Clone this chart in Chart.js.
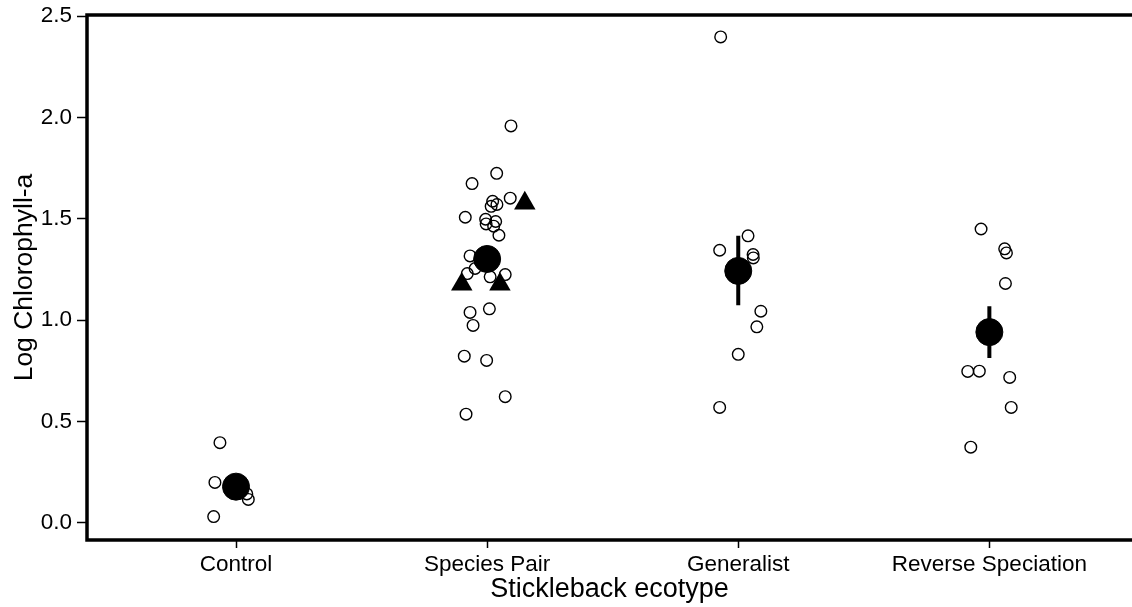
<!DOCTYPE html>
<html>
<head>
<meta charset="utf-8">
<script src="https://cdn.jsdelivr.net/npm/chart.js@4"></script>
<style>
html, body { margin: 0; padding: 0; background: #fff; overflow: hidden; }
</style>
</head>
<body>
<canvas id="chart" width="1132" height="607"></canvas>
<script>
const categories = ['Control', 'Species Pair', 'Generalist', 'Reverse Speciation'];
const yTicks = [0, 0.5, 1.0, 1.5, 2.0, 2.5];

// individual mesocosms (x = category position with jitter)
const controlJitter = [0.936, 0.916, 0.911, 1.049, 1.043];
const controlValues = [0.395, 0.199, 0.030, 0.115, 0.142];

const pairJitter = [2.095, 2.038, 1.940, 2.092, 2.022, 2.039, 2.016, 1.913, 1.994, 2.034, 2.026, 1.996,
  2.047, 1.932, 1.952, 1.921, 2.012, 2.072, 1.932, 2.009, 1.944, 1.909, 1.998, 2.072, 1.916];
const pairValues = [1.959, 1.725, 1.674, 1.602, 1.587, 1.571, 1.562, 1.508, 1.498, 1.487, 1.464, 1.475,
  1.419, 1.317, 1.255, 1.230, 1.214, 1.225, 1.038, 1.056, 0.974, 0.822, 0.801, 0.622, 0.536];

const generalistJitter = [2.930, 3.039, 2.926, 3.059, 3.060, 3.090, 3.074, 3.000, 2.926];
const generalistValues = [2.398, 1.416, 1.345, 1.324, 1.307, 1.044, 0.967, 0.831, 0.569];

const reverseJitter = [3.967, 4.061, 4.068, 4.064, 3.914, 3.960, 4.081, 4.087, 3.926];
const reverseValues = [1.450, 1.352, 1.332, 1.181, 0.747, 0.748, 0.717, 0.569, 0.373];

// triangles in the species pair group
const triangleJitter = [1.899, 2.051, 2.150];
const triangleValues = [1.177, 1.177, 1.577];

// group means and error bars
const meanValues = [0.178, 1.302, 1.243, 0.941];
const seLower = [0.13, 1.26, 1.074, 0.813];
const seUpper = [0.23, 1.34, 1.416, 1.069];

const family = '"Liberation Sans", Arial, Helvetica, sans-serif';

function pts(xs, ys) {
  return xs.map((x, i) => ({ x: x, y: ys[i] }));
}

const openPoints = [].concat(
  pts(controlJitter, controlValues),
  pts(pairJitter, pairValues),
  pts(generalistJitter, generalistValues),
  pts(reverseJitter, reverseValues)
);

const errorLines = [];
categories.forEach((c, i) => {
  errorLines.push({ x: i + 1, y: seLower[i] });
  errorLines.push({ x: i + 1, y: seUpper[i] });
  errorLines.push({ x: i + 1, y: null });
});

const frame = {
  id: 'frame',
  afterDraw(chart) {
    const { ctx, chartArea: a } = chart;
    ctx.save();
    ctx.strokeStyle = '#000';
    ctx.lineWidth = 3.5;
    ctx.lineJoin = 'miter';
    ctx.beginPath();
    ctx.moveTo(a.right + 5, a.top);
    ctx.lineTo(a.left, a.top);
    ctx.lineTo(a.left, a.bottom);
    ctx.lineTo(a.right + 5, a.bottom);
    ctx.stroke();
    ctx.restore();
  }
};

const ctx = document.getElementById('chart').getContext('2d');
new Chart(ctx, {
  type: 'scatter',
  data: {
    datasets: [{
      label: 'Mean',
      data: pts(categories.map((c, i) => i + 1), meanValues),
      pointStyle: 'circle',
      pointRadius: 13.5,
      borderWidth: 1,
      borderColor: '#000',
      backgroundColor: '#000'
    }, {
      label: 'Triangles',
      data: pts(triangleJitter, triangleValues),
      pointStyle: 'triangle',
      pointRadius: 12.4,
      borderWidth: 0,
      borderColor: '#000',
      backgroundColor: '#000'
    }, {
      type: 'line',
      label: 'SE',
      data: errorLines,
      showLine: true,
      spanGaps: false,
      borderColor: '#000',
      borderWidth: 4,
      pointRadius: 0,
      fill: false
    }, {
      label: 'Mesocosms',
      data: openPoints,
      pointStyle: 'circle',
      pointRadius: 5.8,
      borderWidth: 1.4,
      borderColor: '#000',
      backgroundColor: 'rgba(0,0,0,0)'
    }]
  },
  options: {
    responsive: false,
    animation: false,
    events: [],
    layout: { autoPadding: false, padding: { top: 15, right: 0, bottom: 0, left: 0 } },
    plugins: {
      legend: { display: false },
      tooltip: { enabled: false }
    },
    scales: {
      x: {
        type: 'linear',
        min: 0.4066,
        max: 4.568,
        afterBuildTicks: s => { s.ticks = categories.map((c, i) => ({ value: i + 1 })); },
        afterFit: s => { s.height = 67; s.paddingLeft = 0; s.paddingRight = 0; },
        grid: { drawOnChartArea: false, tickLength: 8, tickWidth: 1.5, tickColor: '#000' },
        border: { display: false },
        ticks: {
          callback: v => categories[v - 1],
          color: '#000',
          font: { size: 22.5, family: family },
          padding: 3,
          maxRotation: 0,
          autoSkip: false
        },
        title: {
          display: true,
          text: 'Stickleback ecotype',
          color: '#000',
          font: { size: 27, family: family },
          padding: { top: 0, bottom: 1 }
        }
      },
      y: {
        min: -0.0854,
        max: 2.5064,
        afterBuildTicks: s => { s.ticks = yTicks.map(v => ({ value: v })); },
        afterFit: s => { s.width = 87; s.paddingTop = 0; s.paddingBottom = 0; },
        grid: { drawOnChartArea: false, tickLength: 10, tickWidth: 1.5, tickColor: '#000' },
        border: { display: false },
        ticks: {
          callback: v => v.toFixed(1),
          color: '#000',
          font: { size: 22.5, family: family },
          padding: 5
        },
        title: {
          display: true,
          text: 'Log Chlorophyll-a',
          color: '#000',
          font: { size: 26.5, family: family },
          padding: { top: 9, bottom: 0 }
        }
      }
    }
  },
  plugins: [frame]
});
</script>
</body>
</html>
